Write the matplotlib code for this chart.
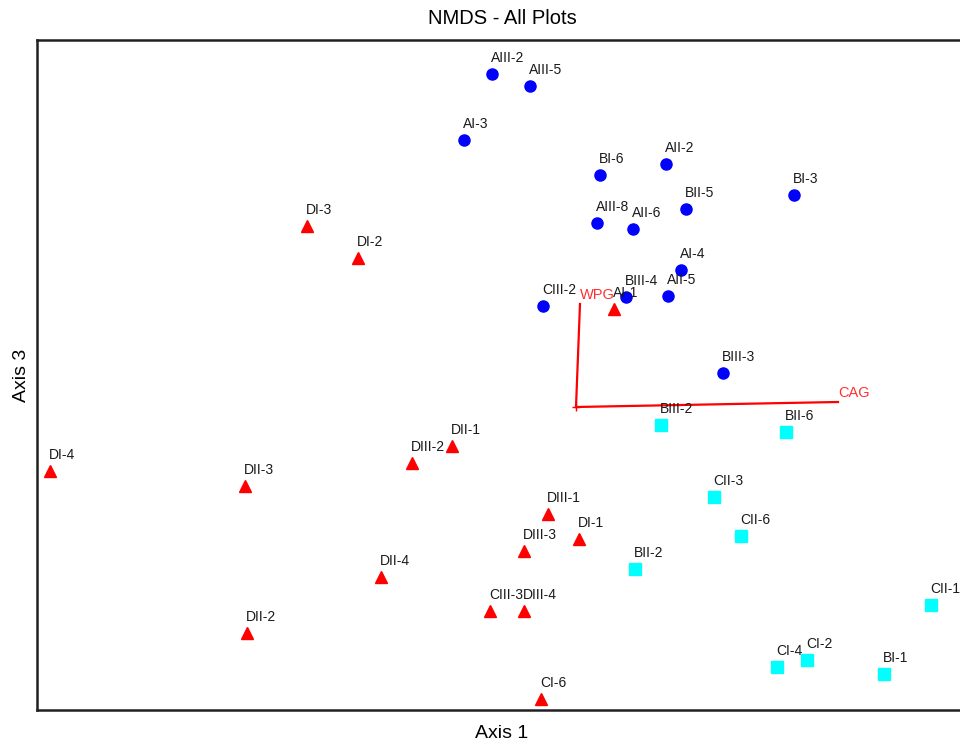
import numpy as np
import matplotlib
matplotlib.use("Agg")
import matplotlib.pyplot as plt

plt.rcParams['font.family'] = ['Liberation Sans', 'DejaVu Sans']

# group 1 (blue circles)
blue_names = ['AIII-2', 'AIII-5', 'AI-3', 'BI-6', 'AII-2', 'BII-5', 'BI-3', 'AIII-8',
              'AII-6', 'AI-4', 'BIII-4', 'AII-5', 'CIII-2', 'BIII-3']
blue_x = [-0.336, -0.184, -0.448, 0.096, 0.36, 0.44, 0.872, 0.084,
          0.228, 0.42, 0.2, 0.368, -0.132, 0.588]
blue_y = [1.332, 1.284, 1.068, 0.928, 0.972, 0.792, 0.848, 0.736,
          0.712, 0.548, 0.44, 0.444, 0.404, 0.136]

# group 2 (red triangles)
red_names = ['AI-1', 'DI-3', 'DI-2', 'DI-4', 'DII-3', 'DIII-2', 'DII-1', 'DIII-1',
             'DI-1', 'DIII-3', 'DII-4', 'CIII-3', 'DIII-4', 'DII-2', 'CI-6']
red_x = [0.152, -1.076, -0.872, -2.104, -1.324, -0.656, -0.496, -0.112,
         0.012, -0.208, -0.78, -0.344, -0.208, -1.316, -0.14]
red_y = [0.392, 0.724, 0.596, -0.256, -0.316, -0.224, -0.156, -0.428,
         -0.528, -0.576, -0.68, -0.816, -0.816, -0.904, -1.168]

# group 3 (cyan squares)
cyan_names = ['BIII-2', 'BII-6', 'CII-3', 'CII-6', 'BII-2', 'CII-1', 'CI-4', 'CI-2', 'BI-1']
cyan_x = [0.34, 0.84, 0.552, 0.66, 0.236, 1.42, 0.804, 0.924, 1.232]
cyan_y = [-0.072, -0.1, -0.36, -0.516, -0.648, -0.792, -1.04, -1.012, -1.068]

# joint plot vectors
vec_names = ['WPG', 'CAG']
vec_x = [0.016, 1.048]
vec_y = [0.412, 0.02]

fig = plt.figure(figsize=(9.6, 7.49), dpi=100)
ax = fig.add_axes([37/960, 1-710/749, 930/960, 670/749])

ax.plot(blue_x, blue_y, 'o', color='#0000FF', markersize=8, zorder=3)
ax.plot(red_x, red_y, '^', color='#FF0000', markersize=8.5, zorder=3)
ax.plot(cyan_x, cyan_y, 's', color='#00FFFF', markersize=8.5, zorder=3)

for names, xs, ys in [(blue_names, blue_x, blue_y), (red_names, red_x, red_y),
                      (cyan_names, cyan_x, cyan_y)]:
    for n, x, y in zip(names, xs, ys):
        ax.annotate(n, (x, y), xytext=(-1, 16), textcoords='offset pixels',
                    ha='left', va='center', fontsize=10, color='#1a1a1a', zorder=4)

for n, x, y in zip(vec_names, vec_x, vec_y):
    ax.plot([0, x], [0, y], color='#FF0000', lw=1.6, zorder=2)
    ax.annotate(n, (x, y), xytext=(0, 2), textcoords='offset pixels',
                ha='left', va='bottom', fontsize=10.5, color='#FF3030', zorder=4)
ax.plot([0], [0], '+', color='#FF0000', markersize=6, mew=1)

ax.set_xlim(-2.156, 1.564)
ax.set_ylim(-1.212, 1.468)
ax.set_xticks([])
ax.set_yticks([])
for s in ax.spines.values():
    s.set_linewidth(1.8)
    s.set_color('#202020')

ax.set_xlabel('Axis 1', fontsize=14, labelpad=11)
ax.set_ylabel('Axis 3', fontsize=14, labelpad=5)
fig.text(502/960, 1-18/749, 'NMDS - All Plots', ha='center', va='center', fontsize=14.5)

fig.savefig('out.png', dpi=100)
